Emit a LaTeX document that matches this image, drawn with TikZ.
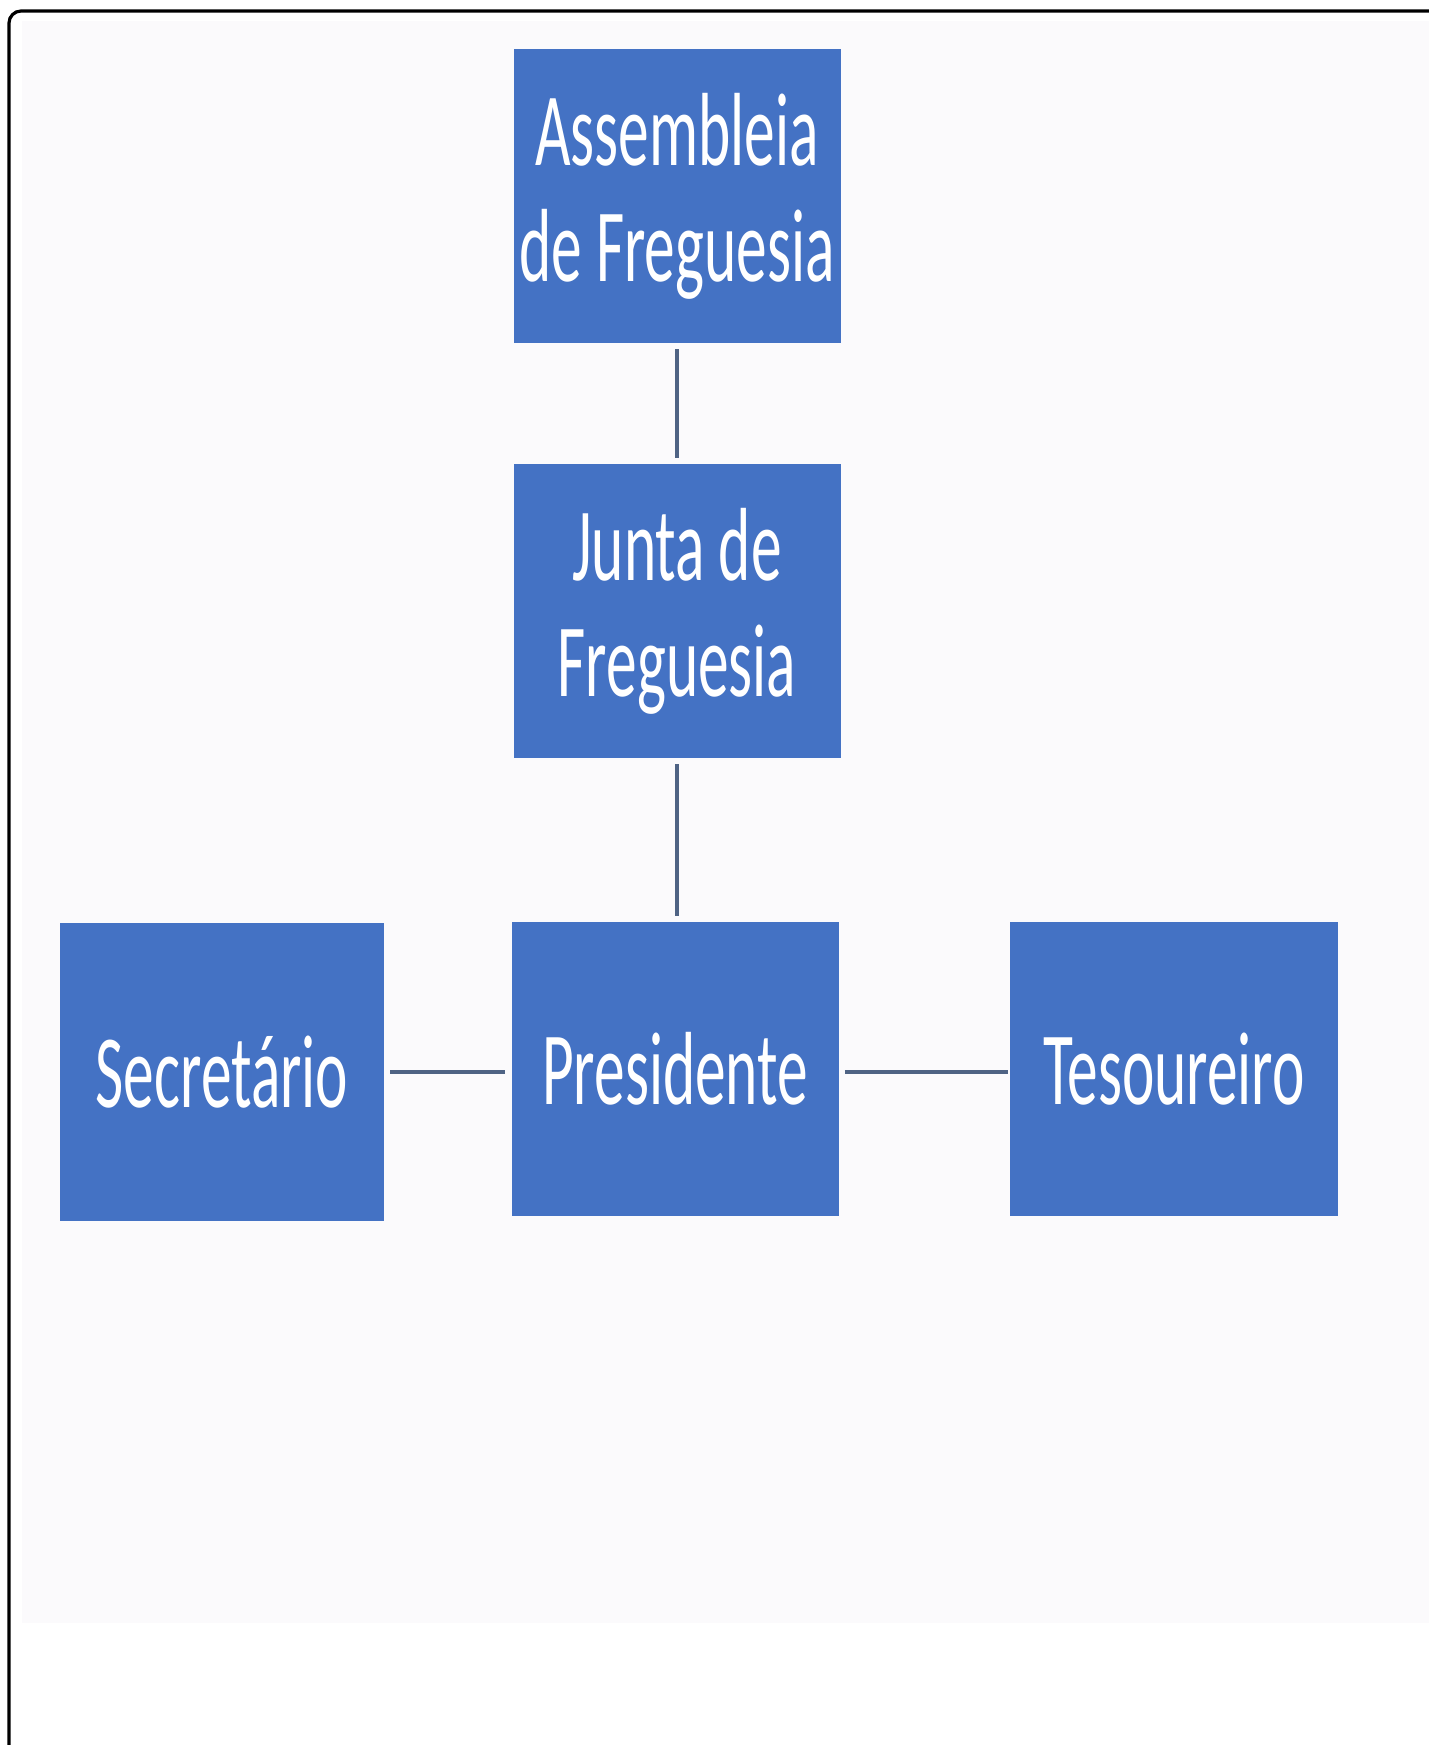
\documentclass[tikz,border=0pt]{standalone}
\usepackage{fontspec}
\newfontfamily\caixafont[FakeStretch=0.59]{Carlito}
\usepackage{tikz}

\definecolor{azulCaixa}{HTML}{4472C4}
\definecolor{linhaCor}{HTML}{4F6384}
\definecolor{fundoCor}{HTML}{FBFAFC}

\begin{document}
\begin{tikzpicture}[x=0.5pt,y=-0.5pt]
    \tikzset{caixa/.style = {shape=rectangle,fill=azulCaixa,text=white,inner sep=0pt,align=center,minimum width=163.5pt,minimum height=147pt,font=\caixafont\fontsize{52}{58}\selectfont}}
    \tikzset{ligacao/.style = {draw=linhaCor,line width=2pt,shorten <=3pt,shorten >=3pt}}

    \useasboundingbox (0,0) rectangle (1429,1745);
    \fill[white] (0,0) rectangle (1429,1745);
    \fill[fundoCor] (22,21) rectangle (1429,1623);
    \draw[line width=1.6pt,rounded corners=6pt] (9,1760) -- (9,11) -- (1440,11);

    \node[caixa] (Assembleia) at (677,196) {Assembleia\\de Freguesia};
    \node[caixa] (Junta) at (677,611) {Junta de\\Freguesia};
    \node[caixa] (Presidente) at (675,1069) {Presidente};
    \node[caixa,minimum width=162pt,minimum height=149pt] (Secretario) at (222,1072) {Secret\'ario};
    \node[caixa,minimum width=164pt] (Tesoureiro) at (1174,1069) {Tesoureiro};

    \draw[ligacao] (Assembleia) -- (Junta);
    \draw[ligacao] (Junta.south) -- (Junta.south |- Presidente.north);

    \draw[ligacao] (Secretario.east) -- (Secretario.east -| Presidente.west);
    \draw[ligacao,shorten >=1pt] (Presidente.east |- Secretario.east) -- (Tesoureiro.west |- Secretario.east);

\end{tikzpicture}
\end{document}
